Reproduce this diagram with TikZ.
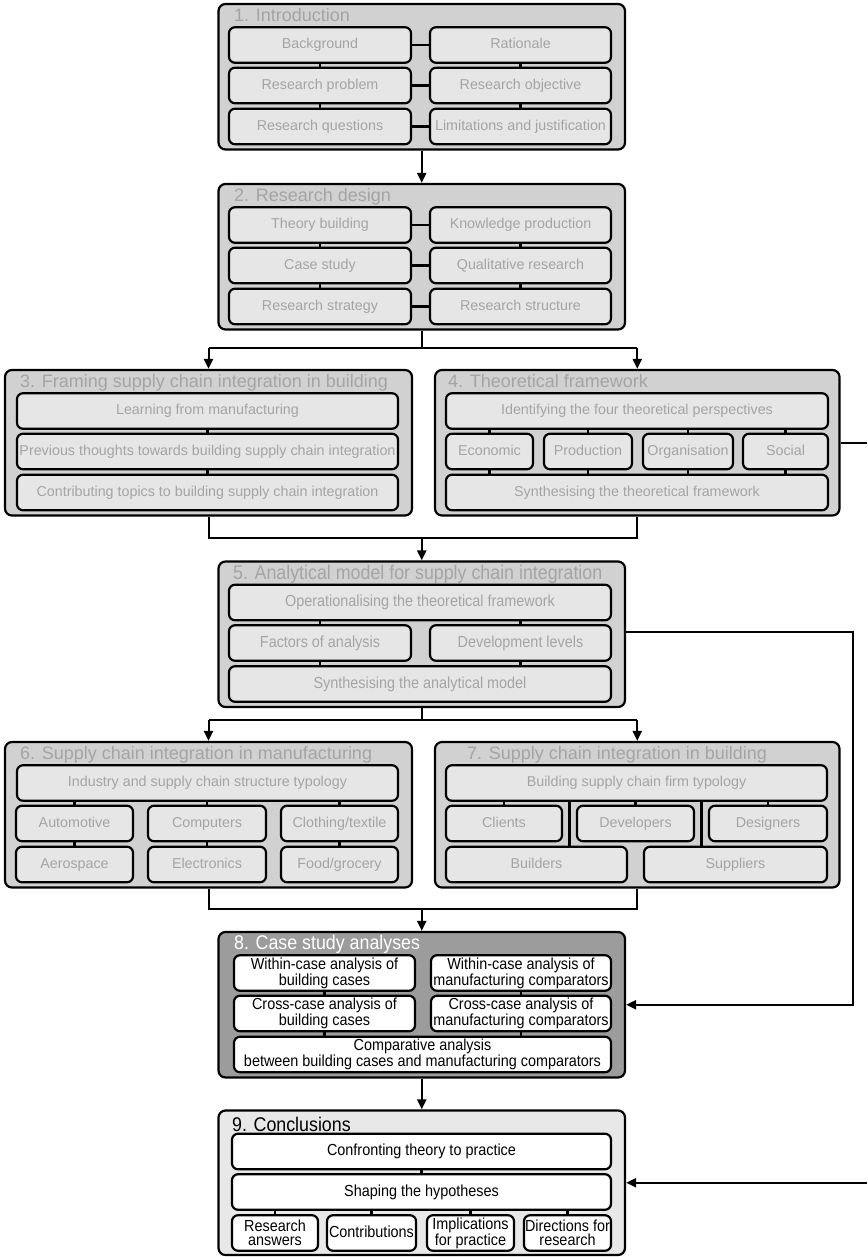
\documentclass[tikz,border=0pt]{standalone}
\usepackage{fontspec}
\setmainfont{Liberation Sans}
\newfontfamily\narrowfont[FakeStretch=0.9]{Liberation Sans}
\usetikzlibrary{arrows.meta,calc}
\definecolor{ofill}{HTML}{D1D1D1}
\definecolor{ifill}{HTML}{E6E6E7}
\definecolor{tgray}{HTML}{A4A4A4}
\definecolor{ofilleight}{HTML}{9C9C9C}
\definecolor{ofillnine}{HTML}{E8E8E8}
\pgfdeclarelayer{bg}\pgfdeclarelayer{mid}\pgfsetlayers{bg,mid,main}
\newcommand\bodyf{\fontsize{14.3}{16}\selectfont}
\newcommand\titlef{\fontsize{18}{20}\selectfont}
\newcommand\nbodyf{\narrowfont\fontsize{16}{13.6}\selectfont}
\newcommand\ntitlef{\narrowfont\fontsize{19.8}{22}\selectfont}
\tikzset{
  outer/.style={draw, line width=2.2pt, rounded corners=7pt, fill=ofill, inner sep=0},
  ibox/.style={draw, line width=2.2pt, rounded corners=6pt, fill=ifill, text=tgray, font=\bodyf, inner sep=0, minimum height=35.5, align=center, text height=10.6pt, text depth=3.1pt},
  nbox/.style={ibox, font=\nbodyf, text height=11.6pt, text depth=3.3pt},
  wbox/.style={draw, line width=2.2pt, rounded corners=6pt, fill=white, text=black, font=\nbodyf, inner sep=0, minimum height=35.5, align=center},
  oneline/.style={text height=11.6pt, text depth=3.3pt},
  ttl/.style={anchor=base west, inner sep=0, text=tgray, font=\titlef},
  conn/.style={line width=2.2pt},
  link/.style={line width=2pt},
  arr/.style={line width=2pt, -{Triangle[length=10pt,width=9pt]}}
}
\begin{document}
\begin{tikzpicture}[x=1pt,y=-1pt]
\useasboundingbox (0,0) rectangle (867,1257);
\coordinate (edge) at (867,0);
% ---------- outer boxes ----------
\begin{pgfonlayer}{bg}
\node[outer, minimum width=406.5, minimum height=145.5] (s1) at (421.75,76.75) {};
\node[outer, minimum width=406.5, minimum height=145.5] (s2) at (421.75,256.75) {};
\node[outer, minimum width=407, minimum height=145.5] (s3) at (208.5,442.75) {};
\node[outer, minimum width=404.5, minimum height=145.5] (s4) at (637.25,442.75) {};
\node[outer, minimum width=406.5, minimum height=145.5] (s5) at (421.75,634.25) {};
\node[outer, minimum width=407, minimum height=145.5] (s6) at (208.5,814.75) {};
\node[outer, minimum width=404.5, minimum height=145.5] (s7) at (637.25,814.75) {};
\node[outer, fill=ofilleight, minimum width=406.5, minimum height=145.5] (s8) at (421.75,1004.75) {};
\node[outer, fill=ofillnine, minimum width=406.5, minimum height=144.5] (s9) at (421.75,1182.75) {};
\end{pgfonlayer}
% ---------- titles ----------
\node[ttl] (t1) at (234,22) {1. Introduction};
\node[ttl] (t2) at (234,202) {2. Research design};
\node[ttl] (t3) at (20,387.5) {3. Framing supply chain integration in building};
\node[ttl] (t4) at (448,387.5) {4. Theoretical framework};
\node[ttl, font=\ntitlef] (t5) at (233,579.5) {5. Analytical model for supply chain integration};
\node[ttl] (t6) at (20,759) {6. Supply chain integration in manufacturing};
\node[ttl] (t7) at (467,759) {7. Supply chain integration in building};
\node[ttl, font=\ntitlef, text=white] (t8) at (234,949) {8. Case study analyses};
\node[ttl, font=\ntitlef, text=black] (t9) at (232,1131.5) {9. Conclusions};
% ---------- section 1 ----------
\node[ibox, minimum width=182] (a11) at (320,45) {Background};
\node[ibox, minimum width=181] (a12) at (520.5,45) {Rationale};
\node[ibox, minimum width=182] (a21) at (320,85.5) {Research problem};
\node[ibox, minimum width=181] (a22) at (520.5,85.5) {Research objective};
\node[ibox, minimum width=182] (a31) at (320,126.5) {Research questions};
\node[ibox, minimum width=181] (a32) at (520.5,126.5) {Limitations and justification};
% ---------- section 2 ----------
\node[ibox, minimum width=182] (b11) at (320,225) {Theory building};
\node[ibox, minimum width=181] (b12) at (520.5,225) {Knowledge production};
\node[ibox, minimum width=182] (b21) at (320,265.5) {Case study};
\node[ibox, minimum width=181] (b22) at (520.5,265.5) {Qualitative research};
\node[ibox, minimum width=182] (b31) at (320,306.5) {Research strategy};
\node[ibox, minimum width=181] (b32) at (520.5,306.5) {Research structure};
% ---------- section 3 ----------
\node[ibox, minimum width=381] (c1) at (207.5,411) {Learning from manufacturing};
\node[ibox, minimum width=381] (c2) at (207.5,451.5) {Previous thoughts towards building supply chain integration};
\node[ibox, minimum width=381] (c3) at (207.5,492.5) {Contributing topics to building supply chain integration};
% ---------- section 4 ----------
\node[ibox, minimum width=382] (d1) at (637,411) {Identifying the four theoretical perspectives};
\node[ibox, minimum width=87] (d21) at (489.5,451.5) {Economic};
\node[ibox, minimum width=88] (d22) at (588,451.5) {Production};
\node[ibox, minimum width=90] (d23) at (688,451.5) {Organisation};
\node[ibox, minimum width=85] (d24) at (785.5,451.5) {Social};
\node[ibox, minimum width=382] (d3) at (637,492.5) {Synthesising the theoretical framework};
% ---------- section 5 ----------
\node[nbox, minimum width=382] (e1) at (420,602.5) {Operationalising the theoretical framework};
\node[nbox, minimum width=182] (e21) at (320,643) {Factors of analysis};
\node[nbox, minimum width=181] (e22) at (520.5,643) {Development levels};
\node[nbox, minimum width=382] (e3) at (420,684) {Synthesising the analytical model};
% ---------- section 6 ----------
\node[ibox, minimum width=381] (f1) at (207.5,783) {Industry and supply chain structure typology};
\node[ibox, minimum width=117] (f21) at (74.5,823.5) {Automotive};
\node[ibox, minimum width=118] (f22) at (207,823.5) {Computers};
\node[ibox, minimum width=117] (f23) at (339.5,823.5) {Clothing/textile};
\node[ibox, minimum width=117] (f31) at (74.5,864.5) {Aerospace};
\node[ibox, minimum width=118] (f32) at (207,864.5) {Electronics};
\node[ibox, minimum width=117] (f33) at (339.5,864.5) {Food/grocery};
% ---------- section 7 ----------
\node[ibox, minimum width=381] (g1) at (636.5,783) {Building supply chain firm typology};
\node[ibox, minimum width=116] (g21) at (504,823.5) {Clients};
\node[ibox, minimum width=117] (g22) at (635.5,823.5) {Developers};
\node[ibox, minimum width=118] (g23) at (768,823.5) {Designers};
\node[ibox, minimum width=181] (g31) at (536.5,864.5) {Builders};
\node[ibox, minimum width=183] (g32) at (735.5,864.5) {Suppliers};
\coordinate (gm1) at ($(g21.east)!0.5!(g22.west)$);
\coordinate (gm2) at ($(g22.east)!0.5!(g23.west)$);
% ---------- section 8 ----------
\node[wbox, minimum width=181] (h11) at (324.5,973) {Within-case analysis of\\building cases};
\node[wbox, minimum width=180] (h12) at (521,973) {Within-case analysis of\\manufacturing comparators};
\node[wbox, minimum width=181] (h21) at (324.5,1013.5) {Cross-case analysis of\\building cases};
\node[wbox, minimum width=180] (h22) at (521,1013.5) {Cross-case analysis of\\manufacturing comparators};
\node[wbox, minimum width=377] (h3) at (422.5,1054.5) {Comparative analysis\\between building cases and manufacturing comparators};
% ---------- section 9 ----------
\node[wbox, oneline, minimum width=379] (k1) at (421.5,1151.5) {Confronting theory to practice};
\node[wbox, oneline, minimum width=379] (k2) at (421.5,1192) {Shaping the hypotheses};
\node[wbox, minimum width=86] (k31) at (275,1233) {Research\\answers};
\node[wbox, oneline, minimum width=89] (k32) at (371.5,1233) {Contributions};
\node[wbox, minimum width=87] (k33) at (470.5,1233) {Implications\\for practice};
\node[wbox, minimum width=87] (k34) at (567.5,1233) {Directions for\\research};
% ---------- inner connectors ----------
\begin{pgfonlayer}{mid}
\draw[conn] (a11.center) -- (a12.center);
\draw[conn] (a21.center) -- (a22.center);
\draw[conn] (a31.center) -- (a32.center);
\draw[conn] (a11.center) -- (a31.center);
\draw[conn] (a12.center) -- (a32.center);
\draw[conn] (b11.center) -- (b12.center);
\draw[conn] (b21.center) -- (b22.center);
\draw[conn] (b31.center) -- (b32.center);
\draw[conn] (b11.center) -- (b31.center);
\draw[conn] (b12.center) -- (b32.center);
\draw[conn] (c1.center) -- (c3.center);
\foreach \n in {d21,d22,d23,d24}{\draw[conn] (\n.center |- d1.center) -- (\n.center |- d3.center);}
\foreach \n in {e21,e22}{\draw[conn] (\n.center |- e1.center) -- (\n.center |- e3.center);}
\foreach \n in {f21,f22,f23}{\draw[conn] (\n.center |- f1.center) -- (\n.center |- f31.center);}
\foreach \n in {g21,g22,g23}{\draw[conn] (\n.center |- g1.center) -- (\n.center);}
\draw[conn] (gm1 |- g1.center) -- (gm1 |- g31.center);
\draw[conn] (gm2 |- g1.center) -- (gm2 |- g32.center);
\foreach \n in {h11,h12}{\draw[conn] (\n.center) -- (\n.center |- h3.center);}
\draw[conn] (k1.center) -- (k2.center);
\foreach \n in {k31,k32,k33,k34}{\draw[conn] (\n.center |- k2.center) -- (\n.center);}
\end{pgfonlayer}
% ---------- section connectors ----------
\coordinate (fa) at (421.75,348);
\coordinate (fb) at (421.75,538);
\coordinate (fc) at (421.75,720);
\coordinate (fd) at (421.75,909);
\coordinate (r5) at (853,632);
\draw[arr] (s1.south) -- (s2.north);
\draw[link] (s2.south) -- (fa);
\draw[link] (fa -| s3.north) -- (fa -| s4.north);
\draw[arr] (fa -| s3.north) -- (s3.north);
\draw[arr] (fa -| s4.north) -- (s4.north);
\draw[link] (s3.south) -- (fb -| s3.south) -- (fb -| s4.south) -- (s4.south);
\draw[arr] (fb) -- (s5.north);
\draw[link] (s5.south) -- (fc);
\draw[link] (fc -| s6.north) -- (fc -| s7.north);
\draw[arr] (fc -| s6.north) -- (s6.north);
\draw[arr] (fc -| s7.north) -- (s7.north);
\draw[link] (s6.south) -- (fd -| s6.south) -- (fd -| s7.south) -- (s7.south);
\draw[arr] (fd) -- (s8.north);
\draw[arr] (s8.south) -- (s9.north);
\draw[link] (s4.east) -- (s4.east -| edge);
\draw[arr] (s5.east |- r5) -- (r5) -- (r5 |- s8.east) -- (s8.east);
\draw[arr] (s9.east -| edge) -- (s9.east);
\end{tikzpicture}
\end{document}
